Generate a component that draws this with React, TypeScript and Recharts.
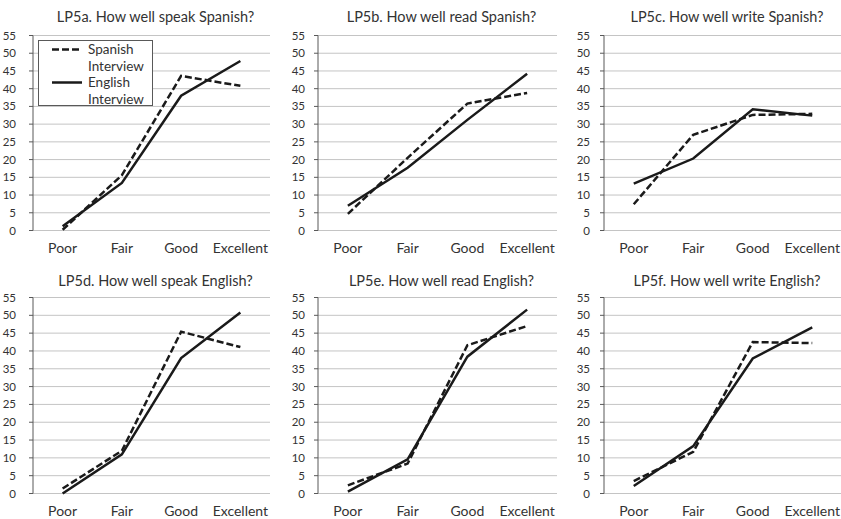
import { CartesianGrid, Line, LineChart, ReferenceArea, XAxis, YAxis } from "recharts"

const categories = ["Poor", "Fair", "Good", "Excellent"]
const yTicks = [0, 5, 10, 15, 20, 25, 30, 35, 40, 45, 50, 55]
const edgeTicks = [0, 1, 2, 3, 4]

const titles = [
  "LP5a. How well speak Spanish?",
  "LP5b. How well read Spanish?",
  "LP5c. How well write Spanish?",
  "LP5d. How well speak English?",
  "LP5e. How well read English?",
  "LP5f. How well write English?",
]

// dashed = Spanish interview, solid = English interview
const lp5aSpanish = [0.2, 15.6, 43.6, 40.8]
const lp5aEnglish = [1.2, 13.4, 38, 47.8]
const lp5bSpanish = [4.7, 20.5, 35.8, 38.8]
const lp5bEnglish = [7.0, 17.7, 31.2, 44.2]
const lp5cSpanish = [7.4, 27.0, 32.6, 32.9]
const lp5cEnglish = [13.2, 20.3, 34.2, 32.4]
const lp5dSpanish = [1.4, 12.0, 45.4, 41.1]
const lp5dEnglish = [0, 11.0, 38.0, 50.8]
const lp5eSpanish = [2.3, 8.4, 41.6, 47.0]
const lp5eEnglish = [0.5, 9.6, 38.4, 51.6]
const lp5fSpanish = [3.5, 11.7, 42.5, 42.2]
const lp5fEnglish = [2.1, 13.3, 37.9, 46.6]

const spanishSeries = [lp5aSpanish, lp5bSpanish, lp5cSpanish, lp5dSpanish, lp5eSpanish, lp5fSpanish]
const englishSeries = [lp5aEnglish, lp5bEnglish, lp5cEnglish, lp5dEnglish, lp5eEnglish, lp5fEnglish]

const FONT = "Lato, 'Open Sans', sans-serif"
const TEXT = "#333333"
const FRAME = "#595959"
const GRID = "#c4c4c4"
const LINE = "#1a1a1a"
const DASH = "7 3"
const Y_AXIS_W = 33
const X_AXIS_H = 26

const cols = [
  { plotLeft: 33, plotRight: 270, labelGap: 13 },
  { plotLeft: 318, plotRight: 557, labelGap: 9 },
  { plotLeft: 604, plotRight: 842, labelGap: 10 },
]
const rows = [
  { top: 0, plotTop: 35.5, plotBottom: 230.5, titleY: 17 },
  { top: 262, plotTop: 297.5, plotBottom: 493.5, titleY: 281 },
]

function Panel({ index }: { index: number }) {
  const col = cols[index % 3]
  const row = rows[Math.floor(index / 3)]
  const data = categories.map((category, i) => ({
    category,
    spanish: spanishSeries[index][i],
    english: englishSeries[index][i],
  }))
  const left = col.plotLeft - Y_AXIS_W
  const width = col.plotRight - col.plotLeft + Y_AXIS_W + 2
  const height = row.plotBottom - row.top + X_AXIS_H
  const plotCenter = (col.plotLeft + col.plotRight) / 2 + 4

  return (
    <>
      <div
        style={{
          position: "absolute",
          left: plotCenter - 130,
          width: 260,
          top: row.titleY - 9,
          height: 18,
          lineHeight: "18px",
          textAlign: "center",
          fontFamily: FONT,
          fontSize: 14.5,
          color: TEXT,
          whiteSpace: "nowrap",
        }}
      >
        {titles[index]}
      </div>
      <div style={{ position: "absolute", left, top: row.top }}>
        <LineChart
          width={width}
          height={height}
          data={data}
          margin={{ top: row.plotTop - row.top, right: 2, bottom: 0, left: 0 }}
        >
          <CartesianGrid xAxisId="cat" vertical={false} stroke={GRID} strokeWidth={1} />
          <XAxis
            xAxisId="edge"
            type="number"
            domain={[0, 4]}
            ticks={edgeTicks}
            allowDataOverflow
            tick={false}
            tickSize={4}
            tickLine={{ stroke: FRAME }}
            axisLine={{ stroke: FRAME }}
            height={0}
          />
          <XAxis
            xAxisId="cat"
            dataKey="category"
            scale="band"
            axisLine={false}
            tickLine={false}
            tickSize={0}
            tickMargin={13}
            interval={0}
            height={X_AXIS_H}
            tick={{ fontFamily: FONT, fontSize: 14, fill: TEXT }}
          />
          <YAxis
            domain={[0, 55]}
            ticks={yTicks}
            interval={0}
            width={Y_AXIS_W}
            tickSize={4}
            tickMargin={col.labelGap}
            tickLine={{ stroke: FRAME }}
            axisLine={{ stroke: FRAME }}
            tick={{ fontFamily: FONT, fontSize: 11.5, fill: TEXT }}
          />
          <ReferenceArea
            xAxisId="edge"
            x1={0}
            x2={4}
            y1={0}
            y2={55}
            fill="none"
            stroke={FRAME}
            strokeWidth={1}
          />
          <Line
            xAxisId="cat"
            dataKey="spanish"
            name="Spanish Interview"
            stroke={LINE}
            strokeWidth={2.5}
            strokeDasharray={DASH}
            dot={false}
            isAnimationActive={false}
          />
          <Line
            xAxisId="cat"
            dataKey="english"
            name="English Interview"
            stroke={LINE}
            strokeWidth={2.5}
            dot={false}
            isAnimationActive={false}
          />
        </LineChart>
      </div>
    </>
  )
}

function LegendBox() {
  const items = [
    { label: ["Spanish", "Interview"], dash: DASH },
    { label: ["English", "Interview"], dash: undefined },
  ]
  return (
    <div
      style={{
        position: "absolute",
        left: 38,
        top: 40,
        width: 113,
        height: 64,
        border: `1px solid ${FRAME}`,
        background: "#fff",
        fontFamily: FONT,
        fontSize: 13.5,
        color: TEXT,
        lineHeight: "16.5px",
      }}
    >
      {items.map((item) => (
        <div key={item.label[0]} style={{ display: "flex", alignItems: "flex-start" }}>
          <svg width={30} height={16} style={{ marginLeft: 13, marginRight: 6 }}>
            <line x1={0} x2={30} y1={8.5} y2={8.5} stroke={LINE} strokeWidth={2.5} strokeDasharray={item.dash} />
          </svg>
          <div>
            {item.label.map((t) => (
              <div key={t}>{t}</div>
            ))}
          </div>
        </div>
      ))}
    </div>
  )
}

export default function App() {
  return (
    <div
      style={{
        position: "absolute",
        left: 0,
        top: 0,
        width: 841,
        height: 519,
        overflow: "hidden",
        background: "#fff",
      }}
    >
      {titles.map((t, i) => (
        <Panel key={t} index={i} />
      ))}
      <LegendBox />
    </div>
  )
}
